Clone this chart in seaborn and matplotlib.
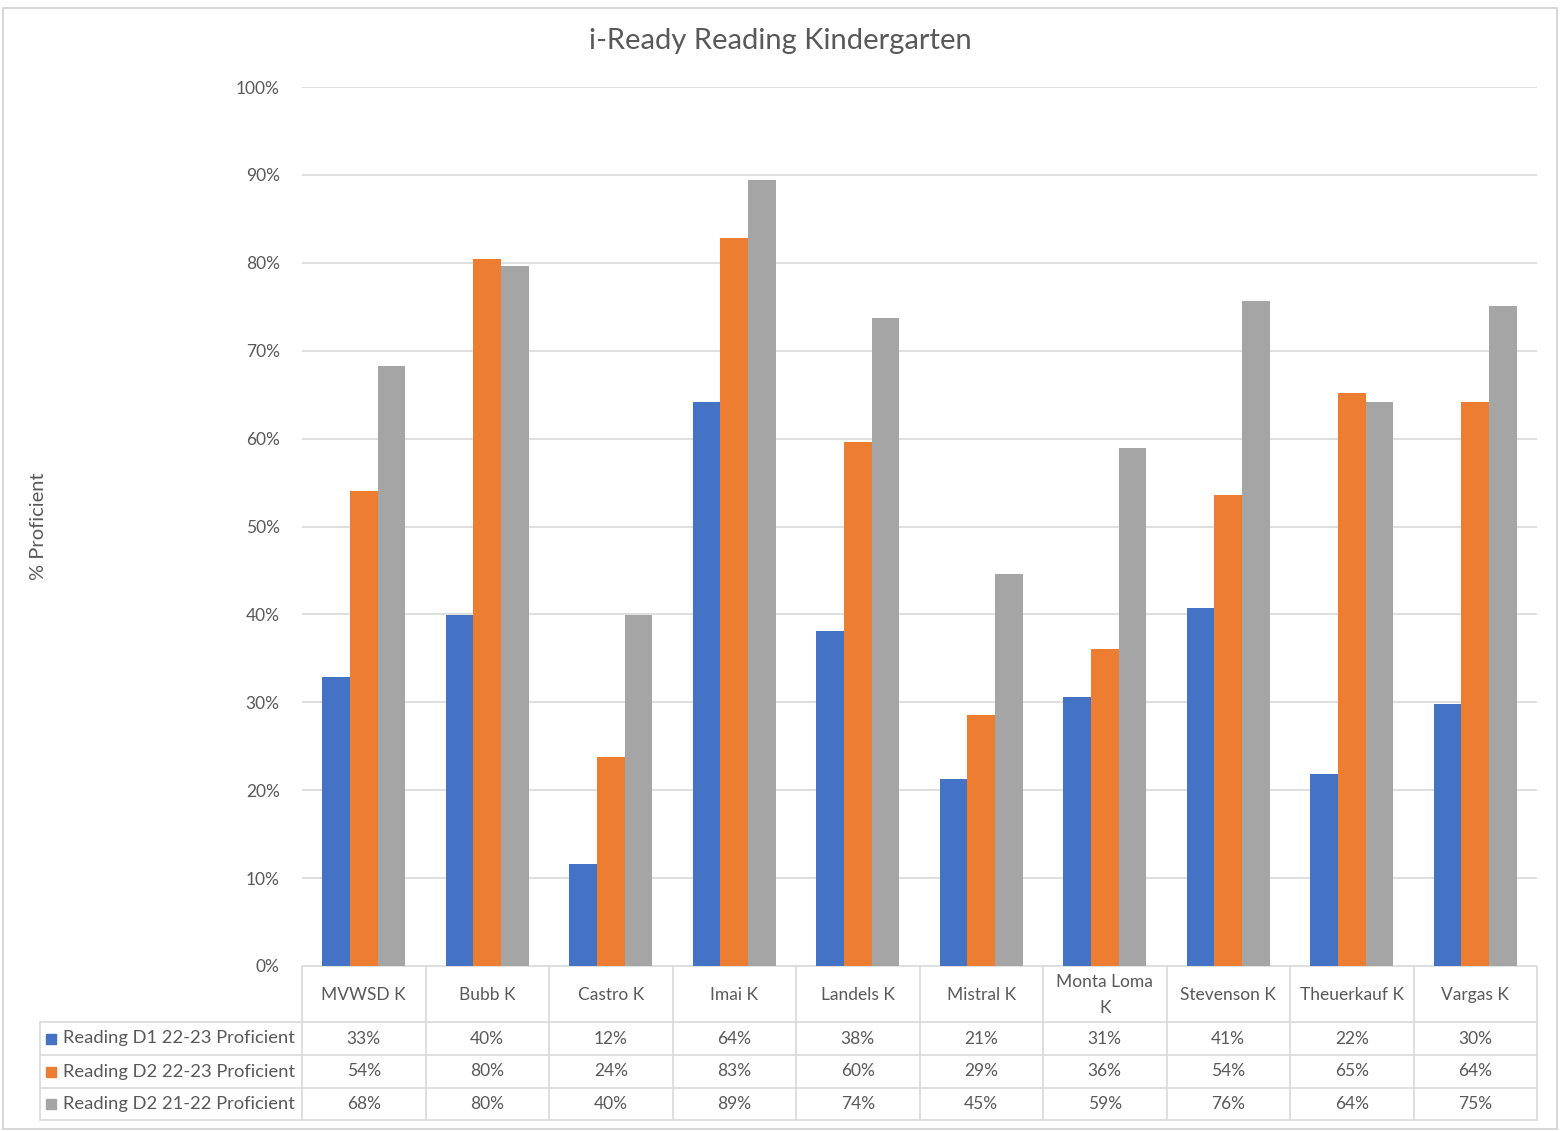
import pandas as pd
import numpy as np
import matplotlib.pyplot as plt
import seaborn as sns
from matplotlib.patches import Rectangle

# school categories and the three reading series (percent proficient)
schools = ['MVWSD K', 'Bubb K', 'Castro K', 'Imai K', 'Landels K',
           'Mistral K', 'Monta Loma K', 'Stevenson K', 'Theuerkauf K', 'Vargas K']
school_labels = ['MVWSD K', 'Bubb K', 'Castro K', 'Imai K', 'Landels K',
                 'Mistral K', 'Monta Loma\nK', 'Stevenson K', 'Theuerkauf K', 'Vargas K']
series_names = ['Reading D1 22-23 Proficient', 'Reading D2 22-23 Proficient',
                'Reading D2 21-22 Proficient']
d1_2223 = [32.9, 39.9, 11.6, 64.2, 38.1, 21.3, 30.6, 40.7, 21.8, 29.8]
d2_2223 = [54.0, 80.4, 23.8, 82.8, 59.6, 28.6, 36.1, 53.6, 65.2, 64.2]
d2_2122 = [68.3, 79.6, 39.9, 89.4, 73.7, 44.6, 58.9, 75.6, 64.2, 75.1]
colors = ['#4472C4', '#ED7D31', '#A5A5A5']

W, H = 1560, 1131
text_col = '#595959'
grid_col = '#d9d9d9'
fs = 12.5

df = pd.DataFrame({'School': schools * 3,
                   'Series': np.repeat(series_names, len(schools)),
                   'Value': d1_2223 + d2_2223 + d2_2122})

sns.set_style('white')
plt.rcParams['font.family'] = ['Lato', 'DejaVu Sans']

fig = plt.figure(figsize=(W / 100, H / 100), dpi=100)
fig.patches.append(Rectangle((3 / W, 2 / H), (W - 6) / W, (H - 10) / H,
                             transform=fig.transFigure, fill=False,
                             edgecolor='#d0d0d0', lw=1.2))

ax = fig.add_axes([302 / W, (H - 966) / H, (1537 - 302) / W, (966 - 87) / H])
sns.barplot(data=df, x='School', y='Value', hue='Series', palette=colors,
            width=0.67, gap=0, saturation=1, linewidth=0, legend=False, ax=ax)
ax.set_ylim(0, 100)
ax.set_xlim(-0.5, len(schools) - 0.5)
ax.set_yticks(range(0, 101, 10))
ax.set_yticklabels([f'{t}%' for t in range(0, 101, 10)], color=text_col, fontsize=fs)
ax.tick_params(axis='y', length=0, pad=16)
ax.set_xticks([])
ax.set_xlabel('')
ax.set_ylabel('% Proficient', color=text_col, fontsize=14.5)
ax.yaxis.set_label_coords(-(302 - 47) / (1537 - 302), 0.5)
ax.grid(axis='y', color=grid_col, lw=1.2)
ax.set_axisbelow(True)
for s in ax.spines.values():
    s.set_visible(False)

fig.text(0.5, 1 - 41 / H, 'i-Ready Reading Kindergarten', ha='center', va='center',
         fontsize=21, color=text_col)

# data table below the plot
tx = fig.add_axes([38 / W, (H - 1121) / H, (1538 - 38) / W, (1121 - 966) / H])
tx.set_xlim(38, 1538)
tx.set_ylim(1121, 966)
tx.axis('off')
x0, x1 = 302, 1537
cw = (x1 - x0) / len(schools)
rows = [966, 1022, 1055, 1088, 1120]
lkw = dict(color=grid_col, lw=1.2)
tx.plot([x0, x1], [rows[0], rows[0]], **lkw)
for r in rows[1:]:
    tx.plot([40, x1], [r, r], **lkw)
tx.plot([40, 40], [rows[1], rows[-1]], **lkw)
for i in range(len(schools) + 1):
    tx.plot([x0 + i * cw] * 2, [rows[0], rows[-1]], **lkw)
for i, lab in enumerate(school_labels):
    tx.text(x0 + (i + 0.5) * cw, (rows[0] + rows[1]) / 2 + 1, lab, ha='center', va='center',
            fontsize=fs, color=text_col, linespacing=1.7)
series_vals = [d1_2223, d2_2223, d2_2122]
for j, (name, vals, c) in enumerate(zip(series_names, series_vals, colors)):
    yc = (rows[j + 1] + rows[j + 2]) / 2
    tx.add_patch(Rectangle((46, yc - 5), 10, 10, color=c))
    tx.text(63, yc, name, ha='left', va='center', fontsize=13.2, color=text_col)
    for i, v in enumerate(vals):
        tx.text(x0 + (i + 0.5) * cw, yc, f'{v:.0f}%', ha='center', va='center',
                fontsize=fs, color=text_col)

fig.savefig('out.png', dpi=100)
